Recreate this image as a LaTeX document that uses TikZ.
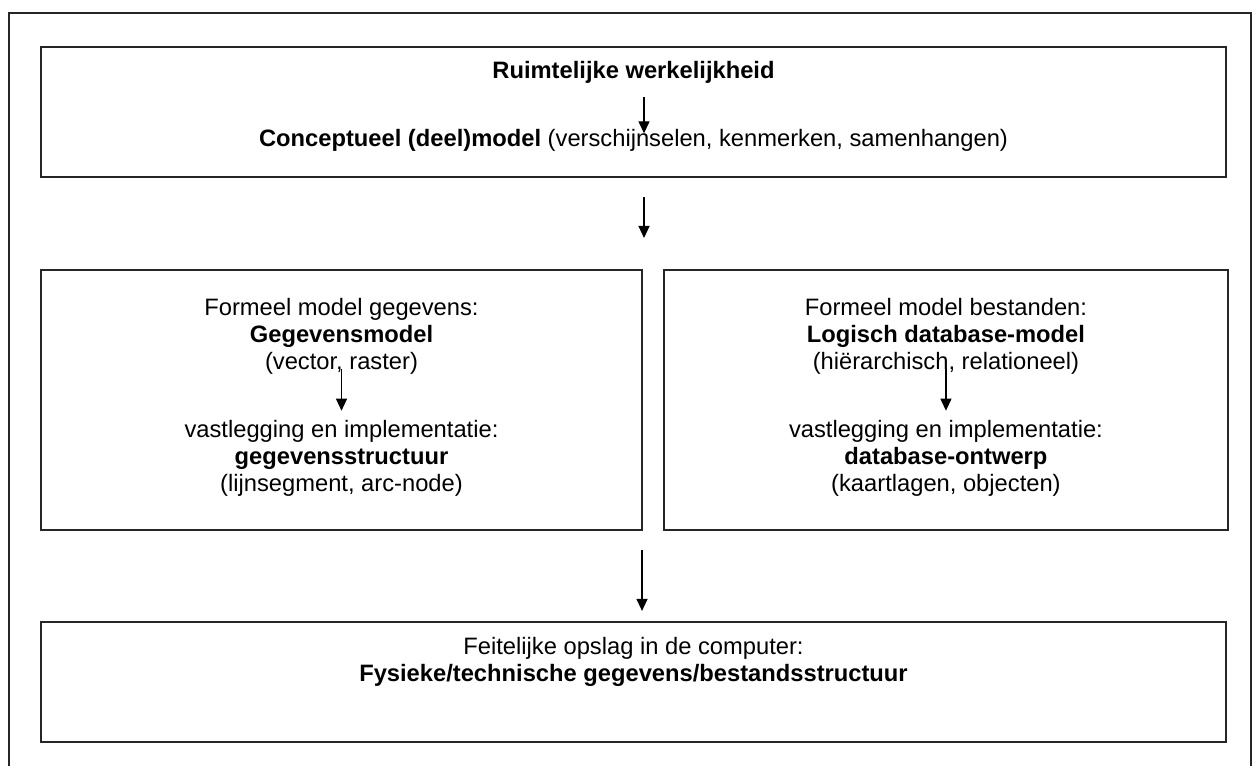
\documentclass[tikz,border=0pt]{standalone}
\usepackage{fontspec}
\setmainfont{Liberation Sans}
\usetikzlibrary{
    arrows.meta,
    calc,
    positioning
}
\tikzset{
    every picture/.style = {
        > = {Triangle[length = 0.24cm, width = 0.22cm]},
        line width = 0.7pt
    },
    box/.style = {
        draw = black!85,
        line width = 1.1pt,
        inner sep = 0pt
    },
    lines/.style = {
        inner sep = 0pt,
        align = center,
        font = \fontsize{13.5pt}{15.4pt}\selectfont
    }
}

\begin{document}
\begin{tikzpicture}
    \useasboundingbox (0,0) rectangle (25.04,-15.30);
    % outer frame, runs off the page below
    \draw[black!85, line width = 1.1pt] (0.18,-15.6) -- (0.18,-0.26) -- (25.02,-0.26) -- (25.02,-15.6);

    \node[box, minimum width = 23.70cm, minimum height = 2.60cm] (top) at (12.67,-2.24) {};
    \node[box, minimum width = 12.02cm, minimum height = 5.20cm] [below right = 1.82cm and 0cm of top.south west] (left) {};
    \node[box, minimum width = 11.28cm, minimum height = 5.20cm] [right = 0.40cm of left] (right) {};
    \node[box, minimum width = 23.70cm, minimum height = 2.40cm] [below right = 1.80cm and 0cm of left.south west] (bottom) {};

    \node[lines] (ruimte) at (12.67,-1.45) {\textbf{Ruimtelijke werkelijkheid}};
    \node[lines] (concept) at (12.67,-2.80) {\textbf{Conceptueel (deel)model} (verschijnselen, kenmerken, samenhangen)};
    \node[lines] (gegevens) at ($(left.center) + (0,1.27)$) {Formeel model gegevens:\\ \textbf{Gegevensmodel}\\ (vector, raster)};
    \node[lines] (structuur) at ($(left.center) + (0,-1.17)$) {vastlegging en implementatie:\\ \textbf{gegevensstructuur}\\ (lijnsegment, arc-node)};
    \node[lines] (bestanden) at ($(right.center) + (0,1.27)$) {Formeel model bestanden:\\ \textbf{Logisch database-model}\\ (hiërarchisch, relationeel)};
    \node[lines] (ontwerp) at ($(right.center) + (0,-1.17)$) {vastlegging en implementatie:\\ \textbf{database-ontwerp}\\ (kaartlagen, objecten)};
    \node[lines] (opslag) at ($(bottom.center) + (0,0.40)$) {Feitelijke opslag in de computer:\\ \textbf{Fysieke/technische gegevens/bestandsstructuur}};

    \draw[->] ([xshift = 0.21cm, yshift = -0.26cm]ruimte.south) -- ([xshift = 0.21cm, yshift = -0.1cm]concept.north);
    \draw[->, shorten <= 0.38cm, shorten >= 0.62cm] ([xshift = 0.21cm]top.south) -- ([xshift = 0.21cm]top.south |- left.north);
    \draw[->] ([yshift = 0.12cm]gegevens.south) -- ([yshift = 0.18cm]structuur.north);
    \draw[->] ([yshift = 0.12cm]bestanden.south) -- ([yshift = 0.18cm]ontwerp.north);
    \draw[->, shorten <= 0.38cm, shorten >= 0.2cm] ([xshift = 0.17cm]bottom.north |- left.south) -- ([xshift = 0.17cm]bottom.north);
\end{tikzpicture}
\end{document}
